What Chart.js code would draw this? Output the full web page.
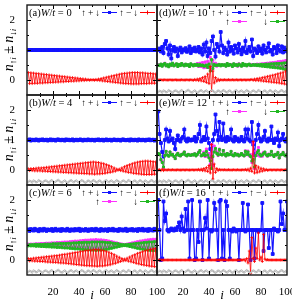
<!DOCTYPE html>
<html>
<head>
<meta charset="utf-8">
<script src="https://cdn.jsdelivr.net/npm/chart.js@4.4.1/dist/chart.umd.min.js"></script>
<style>
  body { margin: 0; background: #fff; }
  #wrap { width: 292px; height: 302px; }
</style>
</head>
<body>
<div id="wrap"><canvas id="chart" width="292" height="302"></canvas></div>
<script>
const sites = [1,2,3,4,5,6,7,8,9,10,11,12,13,14,15,16,17,18,19,20,21,22,23,24,25,26,27,28,29,30,31,32,33,34,35,36,37,38,39,40,41,42,43,44,45,46,47,48,49,50,51,52,53,54,55,56,57,58,59,60,61,62,63,64,65,66,67,68,69,70,71,72,73,74,75,76,77,78,79,80,81,82,83,84,85,86,87,88,89,90,91,92,93,94,95,96,97,98,99,100];
const xTicks = [20, 40, 60, 80, 100];
const yTicks = [0, 1, 2];
const panelTags = ['(a)', '(b)', '(c)', '(d)', '(e)', '(f)'];
const disorderW = ['0', '4', '6', '10', '12', '16'];

// disorder profile (grey, shifted below zero)
const disorder = [-.40,-.36,-.38,-.42,-.35,-.37,-.41,-.39,-.34,-.37,-.40,-.43,-.38,-.35,-.36,-.40,-.42,-.37,-.34,-.38,-.41,-.39,-.36,-.33,-.37,-.40,-.42,-.38,-.35,-.39,-.43,-.40,-.36,-.34,-.38,-.41,-.37,-.35,-.39,-.42,-.38,-.34,-.36,-.40,-.43,-.39,-.35,-.37,-.41,-.38,-.34,-.36,-.40,-.42,-.37,-.35,-.39,-.43,-.40,-.36,-.34,-.38,-.41,-.37,-.35,-.39,-.42,-.38,-.34,-.37,-.40,-.43,-.38,-.35,-.37,-.41,-.39,-.34,-.36,-.40,-.42,-.37,-.35,-.39,-.43,-.38,-.34,-.37,-.41,-.39,-.35,-.38,-.42,-.40,-.36,-.34,-.38,-.41,-.37,-.40];

// (a) W/t = 0
const totalA = [1,1,1,1,1,1,1,1,1,1,1,1,1,1,1,1,1,1,1,1,1,1,1,1,1,1,1,1,1,1,1,1,1,1,1,1,1,1,1,1,1,1,1,1,1,1,1,1,1,1,1,1,1,1,1,1,1,1,1,1,1,1,1,1,1,1,1,1,1,1,1,1,1,1,1,1,1,1,1,1,1,1,1,1,1,1,1,1,1,1,1,1,1,1,1,1,1,1,1,1];
const spinA = [.25,-.12,.24,-.12,.23,-.11,.22,-.11,.21,-.10,.20,-.10,.19,-.09,.18,-.09,.17,-.08,.16,-.08,.15,-.07,.14,-.07,.13,-.06,.12,-.06,.11,-.05,.10,-.05,.09,-.04,.08,-.04,.07,-.03,.06,-.03,.05,-.02,.04,-.02,.03,-.01,.02,-.01,.01,0,.01,-.01,.02,-.01,.03,-.02,.05,-.03,.07,-.04,.09,-.05,.11,-.06,.13,-.07,.15,-.08,.17,-.09,.19,-.10,.21,-.11,.22,-.12,.23,-.12,.24,-.13,.25,-.13,.25,-.13,.25,-.13,.24,-.12,.24,-.12,.23,-.12,.22,-.11,.22,-.11,.21,-.11,.20,-.10];

// (b) W/t = 4
const totalB = [1.00,1.02,0.98,1.01,1.00,0.99,1.02,1.00,0.98,1.01,1.00,1.02,0.99,1.00,1.01,0.98,1.00,1.02,0.99,1.01,1.00,0.98,1.01,1.02,1.00,0.99,1.01,1.00,0.98,1.02,1.00,1.01,0.99,1.00,1.02,0.98,1.00,1.01,0.99,1.00,1.02,1.00,0.98,1.01,1.00,0.99,1.02,1.00,0.99,1.01,1.00,0.98,1.01,1.00,1.02,0.99,1.00,1.01,0.98,1.00,1.02,0.99,1.00,1.01,0.98,1.00,1.02,1.00,0.99,1.01,1.00,0.98,1.01,1.02,1.00,0.99,1.00,1.01,0.98,1.02,1.00,0.99,1.01,1.00,0.98,1.02,1.00,0.99,1.01,1.00,0.98,1.01,1.00,1.02,0.99,1.00,1.01,0.98,1.00,1.01];
const spinB = [.04,-.02,.05,-.02,.05,-.03,.06,-.03,.07,-.03,.07,-.04,.08,-.04,.09,-.05,.10,-.05,.11,-.06,.12,-.06,.13,-.07,.14,-.07,.15,-.08,.16,-.08,.17,-.09,.18,-.09,.19,-.10,.20,-.10,.21,-.11,.22,-.11,.23,-.12,.24,-.12,.25,-.13,.26,-.13,.27,-.14,.26,-.13,.25,-.13,.23,-.12,.21,-.11,.18,-.09,.15,-.08,.11,-.06,.07,-.04,.03,-.01,.03,-.02,.07,-.04,.11,-.06,.15,-.08,.18,-.09,.21,-.11,.24,-.12,.26,-.13,.28,-.14,.29,-.15,.30,-.15,.30,-.15,.29,-.15,.28,-.14,.27,-.14];

// (c) W/t = 6
const totalC = [1.02,0.97,1.03,1.00,0.98,1.04,0.99,1.01,0.96,1.03,1.00,0.98,1.04,1.01,0.97,1.02,1.00,0.99,1.03,0.97,1.01,1.04,0.98,1.00,1.02,0.97,1.03,0.99,1.01,0.98,1.04,1.00,0.97,1.02,1.01,0.98,1.03,0.99,1.00,1.04,0.97,1.02,1.00,0.98,1.03,1.01,0.97,1.02,0.99,1.03,1.00,0.98,1.04,0.99,1.01,0.97,1.03,1.00,0.98,1.02,1.01,0.97,1.03,1.00,0.99,1.04,0.98,1.01,1.00,0.97,1.03,0.99,1.02,0.98,1.01,1.04,0.97,1.00,1.02,0.99,1.03,0.98,1.00,1.02,0.97,1.03,1.01,0.99,1.04,0.98,1.00,1.02,0.97,1.03,0.99,1.01,0.98,1.04,1.00,0.99];
const spinC = [.05,-.03,.05,-.03,.06,-.04,.07,-.04,.08,-.05,.09,-.05,.10,-.06,.11,-.07,.12,-.07,.13,-.08,.14,-.08,.15,-.09,.16,-.10,.18,-.10,.19,-.11,.20,-.12,.22,-.13,.23,-.14,.25,-.15,.26,-.16,.28,-.17,.29,-.18,.31,-.19,.32,-.19,.33,-.20,.34,-.20,.35,-.21,.34,-.20,.33,-.20,.31,-.19,.29,-.17,.26,-.16,.22,-.13,.18,-.11,.13,-.08,.09,-.05,.05,-.03,.03,-.02,.06,-.04,.10,-.06,.14,-.08,.18,-.11,.22,-.13,.25,-.15,.28,-.17,.31,-.18,.33,-.20,.35,-.21,.37,-.22,.38,-.23];
const upC = [.53,.49,.53,.49,.53,.48,.54,.48,.54,.48,.55,.48,.55,.47,.56,.47,.56,.47,.57,.46,.57,.46,.58,.46,.58,.45,.59,.45,.60,.45,.60,.44,.61,.44,.62,.43,.63,.43,.63,.42,.64,.42,.65,.41,.66,.41,.66,.41,.67,.40,.67,.40,.68,.40,.67,.40,.67,.40,.66,.41,.65,.42,.63,.42,.61,.44,.59,.45,.57,.46,.55,.48,.53,.49,.52,.49,.53,.48,.55,.47,.57,.46,.59,.45,.61,.44,.63,.43,.64,.42,.66,.41,.67,.40,.68,.40,.69,.39,.69,.39];
const downC = [.47,.51,.47,.51,.47,.52,.46,.52,.46,.52,.45,.52,.45,.53,.44,.53,.44,.53,.43,.54,.43,.54,.42,.54,.42,.55,.41,.55,.40,.55,.40,.56,.39,.56,.38,.57,.37,.57,.37,.58,.36,.58,.35,.59,.34,.59,.34,.59,.33,.60,.33,.60,.32,.60,.33,.60,.33,.60,.34,.59,.35,.58,.37,.58,.39,.56,.41,.55,.43,.54,.45,.52,.47,.51,.48,.51,.47,.52,.45,.53,.43,.54,.41,.55,.39,.56,.37,.57,.36,.58,.34,.59,.33,.60,.32,.60,.31,.61,.31,.61];

// (d) W/t = 10
const totalD = [1.00,1.05,0.95,1.10,0.90,1.20,1.30,1.05,0.85,1.15,0.72,1.00,1.10,0.95,1.05,0.80,1.00,1.08,0.92,1.02,0.98,1.06,0.94,1.00,1.12,0.90,1.04,0.97,1.08,0.95,1.00,1.10,0.92,1.05,0.85,1.18,0.95,1.25,0.80,1.05,0.90,1.30,1.45,1.00,0.78,1.20,1.10,0.95,1.60,1.15,0.90,1.08,1.00,0.85,1.25,0.95,1.10,1.00,0.88,1.15,1.05,0.92,1.20,1.00,0.86,1.08,0.95,1.30,0.90,1.00,1.10,0.95,1.35,0.80,1.05,1.00,0.90,1.12,0.97,1.05,0.88,1.15,1.00,0.92,1.08,1.22,0.95,1.00,0.85,1.10,1.05,0.90,1.15,1.00,0.95,1.12,0.92,1.08,1.00,0.95];
const spinD = [0,0,.01,0,0,.01,0,0,0,.01,0,0,0,.01,0,0,0,0,.01,0,0,0,.01,0,0,.01,0,-.01,.02,-.01,.03,-.02,.05,-.03,.08,-.05,.12,-.08,.20,-.12,.45,-.35,.30,-.10,.08,-.04,.03,-.02,.01,0,0,.01,0,0,.01,0,0,.01,0,0,.01,0,0,.01,0,0,.01,0,0,.01,0,.01,.02,-.01,.03,-.02,.05,-.02,.06,-.03,.08,-.04,.10,-.05,.12,-.06,.14,-.07,.16,-.08,.18,-.09,.21,-.10,.23,-.12,.26,-.13,.30,-.15];
const upD = [.51,.49,.52,.47,.51,.56,.48,.50,.45,.52,.48,.55,.48,.51,.53,.46,.51,.49,.54,.51,.48,.52,.50,.50,.46,.53,.51,.48,.51,.50,.55,.45,.56,.45,.58,.41,.60,.42,.62,.41,.75,.33,.66,.48,.56,.46,.52,.50,.48,.51,.50,.50,.47,.54,.49,.51,.51,.46,.53,.50,.52,.46,.54,.49,.47,.54,.50,.51,.48,.50,.52,.49,.51,.50,.52,.49,.53,.49,.53,.48,.54,.48,.55,.47,.56,.47,.57,.46,.58,.46,.59,.45,.61,.45,.62,.44,.63,.43,.65,.42];
const downD = [.50,.48,.53,.46,.52,.55,.47,.51,.44,.53,.49,.56,.47,.50,.54,.45,.52,.48,.55,.50,.47,.53,.49,.51,.45,.54,.50,.47,.52,.49,.52,.47,.51,.48,.50,.46,.47,.50,.42,.53,.30,.68,.38,.52,.48,.50,.49,.52,.47,.51,.49,.51,.46,.55,.48,.52,.50,.45,.54,.49,.51,.47,.53,.50,.46,.55,.49,.52,.47,.51,.53,.48,.49,.51,.49,.51,.48,.51,.47,.52,.46,.52,.45,.53,.44,.53,.43,.54,.42,.54,.41,.55,.40,.55,.39,.56,.37,.57,.35,.58];

// (e) W/t = 12
const totalE = [1.95,1.20,0.90,0.60,0.45,1.00,1.35,1.05,0.95,1.30,1.00,1.05,0.90,0.70,1.00,1.15,1.00,0.95,1.05,1.10,1.35,1.00,0.95,1.05,1.00,0.98,1.02,1.00,1.10,0.95,1.05,1.20,1.50,0.95,1.00,1.10,1.00,1.45,1.05,0.90,0.70,0.45,1.00,1.20,1.85,1.30,1.00,1.60,1.10,1.00,1.55,1.05,0.95,1.10,1.00,1.05,1.35,1.00,0.95,1.10,1.00,1.05,0.95,1.00,1.10,1.00,0.95,1.35,1.05,1.35,1.00,0.95,1.60,0.85,0.50,1.00,1.20,1.50,1.05,0.95,1.00,1.10,1.30,1.00,0.95,1.05,1.00,1.45,1.00,0.90,1.05,1.00,1.25,0.80,1.00,1.05,1.20,1.00,0.95,1.05];
const spinE = [0,.01,-.02,.03,-.02,.01,0,0,.01,0,0,.01,0,0,0,.01,0,0,0,.01,0,0,.01,0,0,0,.01,0,0,.01,0,.02,-.01,.03,-.02,.05,-.03,.08,-.05,.15,-.10,.85,-.30,.20,-.08,.05,-.02,.02,0,.01,0,.01,0,0,.01,0,0,0,.01,0,0,.01,0,0,0,.01,0,.02,-.01,.03,-.03,.06,-.05,.95,-.10,.15,-.09,.10,-.06,.06,-.04,.04,-.02,.02,-.01,0,.01,0,0,.01,0,0,.01,0,0,.01,0,0,.01,0];
const upE = [.55,.53,.33,.28,.08,.49,.62,.50,.47,.60,.50,.53,.45,.38,.50,.56,.49,.47,.52,.54,.60,.50,.48,.52,.50,.49,.52,.50,.54,.48,.52,.60,.64,.50,.48,.60,.45,.70,.45,.55,.20,.85,.15,.80,.64,.60,.48,.70,.52,.51,.65,.53,.47,.55,.51,.52,.62,.50,.48,.55,.50,.53,.47,.50,.55,.51,.47,.64,.51,.63,.47,.51,.25,.90,.05,.63,.49,.75,.46,.53,.46,.59,.58,.52,.46,.53,.50,.62,.50,.46,.52,.50,.59,.40,.50,.52,.59,.50,.47,.53];
const downE = [.55,.52,.35,.25,.10,.48,.62,.50,.46,.60,.50,.52,.45,.38,.50,.55,.49,.47,.52,.53,.60,.50,.47,.52,.50,.49,.51,.50,.54,.47,.52,.58,.65,.47,.50,.55,.48,.62,.50,.40,.30,.05,.45,.60,.72,.55,.50,.68,.52,.50,.65,.52,.47,.55,.50,.52,.62,.50,.47,.55,.50,.52,.47,.50,.55,.50,.47,.62,.52,.60,.50,.45,.30,.35,.10,.48,.58,.65,.52,.47,.50,.55,.60,.50,.47,.52,.50,.62,.50,.45,.52,.50,.58,.40,.50,.52,.58,.50,.47,.52];

// (f) W/t = 16
const totalF = [2.00,1.00,0.00,0.05,1.95,1.30,1.55,1.00,0.95,1.00,1.05,1.00,0.98,1.05,1.00,1.10,1.25,1.00,1.45,1.05,0.95,1.70,1.00,1.95,0.05,1.00,2.00,1.00,0.00,0.05,1.00,0.60,1.95,1.00,0.00,1.00,1.40,1.05,2.00,0.05,1.00,0.95,1.00,1.90,1.70,1.00,0.00,1.95,2.00,0.05,1.00,0.00,1.95,1.80,1.00,0.05,1.00,0.95,1.05,1.00,0.95,1.00,0.00,1.00,1.00,1.90,1.00,0.95,1.00,1.85,1.00,0.00,1.00,1.00,0.05,1.00,1.00,0.95,1.00,1.00,1.90,0.30,1.00,1.00,1.00,0.40,1.00,1.00,0.20,1.05,1.00,1.00,0.95,1.00,1.95,1.20,1.55,1.00,1.00,1.95];
const spinF = [0,0,0,0,0,0,0,0,0,0,0,0,0,0,0,0,0,0,0,0,0,0,0,0,0,0,0,0,0,0,0,0,0,0,0,0,0,0,0,0,0,0,0,0,0,0,0,0,0,0,0,0,0,0,0,0,0,0,0,0,0,0,0,0,0,0,.02,-.03,.05,-.10,.30,-.45,.75,.05,-.05,.40,.05,.90,0,.10,-.05,.85,.03,0,.01,0,0,0,0,0,0,0,0,0,0,0,0,0,0,0];

const FONT = "'Liberation Serif', 'DejaVu Serif', serif";
const BLUE = '#1414ff', RED = '#ff0000', PINK = '#ff30ff', GREEN = '#20b820', GREY = '#8c8c8c';

const panels = [
  { x: 'xL', y: 'yA', total: totalA, spin: spinA },
  { x: 'xL', y: 'yB', total: totalB, spin: spinB, grey: true },
  { x: 'xL', y: 'yC', total: totalC, spin: spinC, up: upC, down: downC, grey: true },
  { x: 'xR', y: 'yA', total: totalD, spin: spinD, up: upD, down: downD, grey: true },
  { x: 'xR', y: 'yB', total: totalE, spin: spinE, up: upE, down: downE, grey: true },
  { x: 'xR', y: 'yC', total: totalF, spin: spinF, grey: true }
];

function series(p, values, style) {
  return Object.assign({
    data: values.map((v, k) => ({ x: sites[k], y: v })),
    xAxisID: p.x, yAxisID: p.y,
    borderWidth: 1, pointBorderWidth: 1, tension: 0, fill: false
  }, style);
}

const datasets = [];
panels.forEach(p => {
  datasets.push(series(p, p.total, { borderColor: BLUE, backgroundColor: BLUE, pointStyle: 'rect', pointRadius: 2, borderWidth: 1.2, order: 5 }));
  if (p.up) datasets.push(series(p, p.up, { borderColor: PINK, backgroundColor: PINK, pointStyle: 'rect', pointRadius: 1.4, borderWidth: 0.9, order: 4 }));
  if (p.down) datasets.push(series(p, p.down, { borderColor: GREEN, backgroundColor: GREEN, pointStyle: 'rect', pointRadius: 1.4, borderWidth: 0.9, order: 3 }));
  datasets.push(series(p, p.spin, { borderColor: RED, backgroundColor: RED, pointStyle: 'cross', pointRadius: 1.5, borderWidth: 0.8, pointBorderWidth: 0.8, order: 2 }));
  if (p.grey) datasets.push(series(p, disorder, { borderColor: GREY, backgroundColor: '#fff', pointStyle: 'circle', pointRadius: 0.8, borderWidth: 0.7, pointBorderWidth: 0.5, order: 1 }));
});

function xAxis() {
  return {
    type: 'linear', position: 'bottom', stack: 'cols', min: 0, max: 100,
    grid: { display: false }, border: { display: false },
    afterBuildTicks: s => { s.ticks = xTicks.map(v => ({ value: v })); },
    afterFit: s => { s.height = 27; s.paddingLeft = 0; s.paddingRight = 0; },
    ticks: { autoSkip: false, maxRotation: 0, padding: 3, color: '#000', font: { family: FONT, size: 11 }, callback: v => String(v) },
    title: { display: true, text: 'i', color: '#000', font: { family: FONT, size: 13, style: 'italic', lineHeight: 1 }, padding: { top: 0, bottom: 0 } }
  };
}
function yAxis() {
  return {
    type: 'linear', position: 'left', stack: 'rows', min: -0.5, max: 2.5,
    grid: { display: false }, border: { display: false },
    afterBuildTicks: s => { s.ticks = yTicks.map(v => ({ value: v })); },
    afterFit: s => { s.width = 27; s.paddingTop = 0; s.paddingBottom = 0; },
    ticks: { padding: 4, color: '#000', font: { family: FONT, size: 11 }, callback: v => String(v) }
  };
}

function rich(ctx, parts, x, y, align) {
  let w = 0;
  parts.forEach(p => { ctx.font = p.f; w += ctx.measureText(p.t).width; });
  let cx = align === 'center' ? x - w / 2 : (align === 'right' ? x - w : x);
  parts.forEach(p => {
    ctx.font = p.f;
    ctx.fillText(p.t, cx, y + (p.dy || 0));
    cx += ctx.measureText(p.t).width;
  });
}

const decor = {
  id: 'decor',
  afterDraw(chart) {
    const ctx = chart.ctx;
    ctx.save();
    ctx.textBaseline = 'alphabetic';
    ctx.textAlign = 'left';
    ctx.fillStyle = '#000';
    panels.forEach((p, k) => {
      const xs = chart.scales[p.x], ys = chart.scales[p.y];
      const L = xs.getPixelForValue(0), R = xs.getPixelForValue(100);
      const T = ys.getPixelForValue(2.5), B = ys.getPixelForValue(-0.5);
      // inward ticks
      ctx.strokeStyle = '#000';
      ctx.lineWidth = 1;
      ctx.beginPath();
      [10, 20, 30, 40, 50, 60, 70, 80, 90].forEach(v => {
        const px = Math.round(xs.getPixelForValue(v)) + 0.5;
        const len = v % 20 === 0 ? 4 : 2;
        ctx.moveTo(px, B); ctx.lineTo(px, B - len);
        ctx.moveTo(px, T); ctx.lineTo(px, T + len);
      });
      [0, 0.5, 1, 1.5, 2].forEach(v => {
        const py = Math.round(ys.getPixelForValue(v)) + 0.5;
        const len = v % 1 === 0 ? 4 : 2;
        ctx.moveTo(L, py); ctx.lineTo(L + len, py);
        ctx.moveTo(R, py); ctx.lineTo(R - len, py);
      });
      ctx.stroke();
      // frame
      ctx.lineWidth = 1.4;
      ctx.strokeStyle = '#1a1a1a';
      ctx.strokeRect(L, T, R - L, B - T);
      // panel tag
      ctx.fillStyle = '#000';
      ctx.textAlign = 'left';
      const f10 = '10.5px ' + FONT, i10 = 'italic 10.5px ' + FONT;
      rich(ctx, [
        { t: panelTags[k], f: f10 }, { t: 'W', f: i10 }, { t: '/', f: f10 },
        { t: 't', f: i10 }, { t: ' = ' + disorderW[k], f: f10 }
      ], L + 2, T + 11, 'left');
      // key
      const items = [['↑\u2009+\u2009↓', BLUE, 'rect', 0, 0], ['↑\u2009−\u2009↓', RED, 'cross', 1, 0]];
      if (p.up) items.push(['↑', PINK, 'rect', 0, 1], ['↓', GREEN, 'rect', 1, 1]);
      items.forEach(([txt, col, mk, cidx, row]) => {
        const tx = L + (cidx ? 111 : 73), ky = T + 7 + row * 9;
        ctx.font = '9.5px ' + FONT;
        ctx.textAlign = 'right';
        ctx.fillStyle = '#000';
        ctx.fillText(txt, tx, ky + 3.5);
        ctx.textAlign = 'left';
        ctx.strokeStyle = col; ctx.fillStyle = col; ctx.lineWidth = 1;
        ctx.beginPath(); ctx.moveTo(tx + 2, ky + 0.5); ctx.lineTo(tx + 17, ky + 0.5); ctx.stroke();
        const mx = tx + 9.5;
        if (mk === 'rect') ctx.fillRect(mx - 1.5, ky - 1, 3, 3);
        else { ctx.beginPath(); ctx.moveTo(mx - 2, ky + 0.5); ctx.lineTo(mx + 2, ky + 0.5); ctx.moveTo(mx, ky - 1.5); ctx.lineTo(mx, ky + 2.5); ctx.stroke(); }
      });
    });
    // y titles
    ctx.textAlign = 'left';
    ['yA', 'yB', 'yC'].forEach(id => {
      const ys = chart.scales[id];
      const cy = (ys.top + ys.bottom) / 2;
      ctx.save();
      ctx.translate(13, cy);
      ctx.rotate(-Math.PI / 2);
      ctx.fillStyle = '#000';
      const n = 'italic 14px ' + FONT, s = '9px ' + FONT, si = 'italic 9px ' + FONT, pm = '14px ' + FONT;
      rich(ctx, [
        { t: 'n', f: n }, { t: '↑', f: s, dy: 2.5 }, { t: 'i', f: si, dy: 2.5 },
        { t: ' ± ', f: pm }, { t: 'n', f: n }, { t: '↓', f: s, dy: 2.5 }, { t: 'i', f: si, dy: 2.5 }
      ], 0, 0, 'center');
      ctx.restore();
    });
    ctx.restore();
  }
};

new Chart(document.getElementById('chart'), {
  type: 'line',
  data: { datasets },
  options: {
    responsive: false,
    animation: false,
    events: [],
    layout: { padding: { left: 0, right: 5, top: 2, bottom: 0 } },
    plugins: { legend: { display: false }, tooltip: { enabled: false } },
    scales: { xL: xAxis(), xR: xAxis(), yC: yAxis(), yB: yAxis(), yA: yAxis() }
  },
  plugins: [decor]
});
</script>
</body>
</html>
